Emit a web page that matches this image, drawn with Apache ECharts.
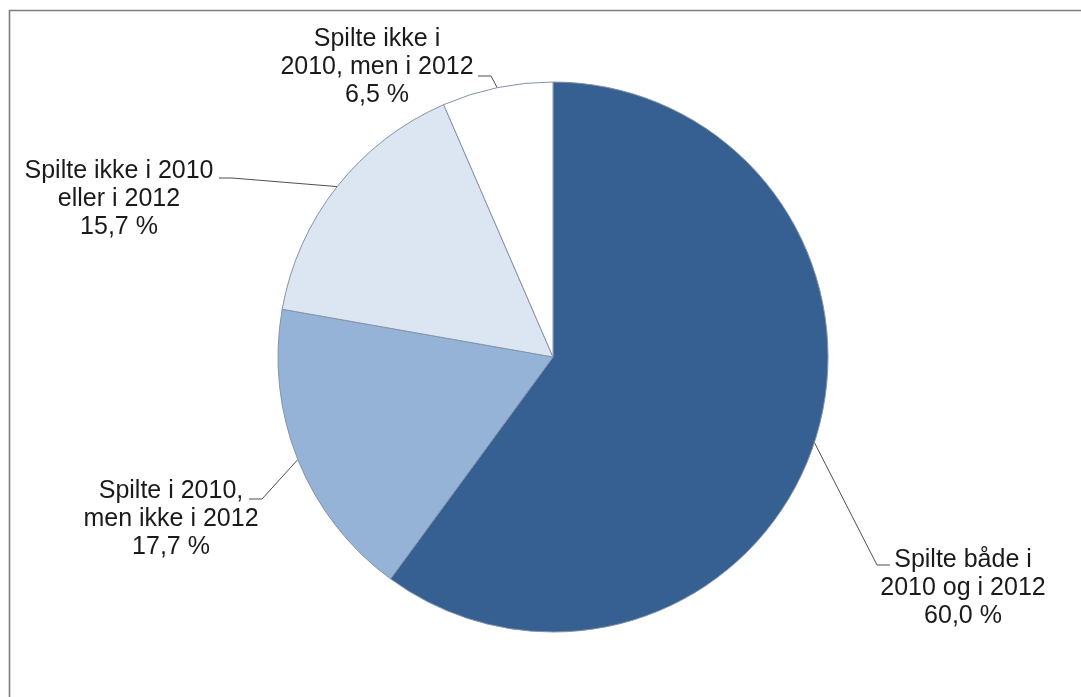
<!DOCTYPE html>
<html>
<head>
<meta charset="utf-8">
<script src="https://cdn.jsdelivr.net/npm/echarts@6/dist/echarts.min.js"></script>
<style>
  html, body { margin: 0; padding: 0; background: #ffffff; }
  #chart { width: 1081px; height: 697px; }
</style>
</head>
<body>
<div id="chart"></div>
<script>
// Andel spillere etter om de spilte i 2010 og/eller 2012 (prosent)
const categories = [
  'Spilte både i\n2010 og i 2012',
  'Spilte i 2010,\nmen ikke i 2012',
  'Spilte ikke i 2010\neller i 2012',
  'Spilte ikke i\n2010, men i 2012'
];
const values = [60.0, 17.7, 15.7, 6.5];
const sliceColors = ['#376092', '#95b3d7', '#dce6f2', '#ffffff'];

// Label placement: block centre and the elbow/end of each leader line
const labelPlacement = [
  { x: 963, y: 588, elbow: [877, 565], end: [890, 565] },
  { x: 171, y: 519, elbow: [262, 499], end: [249, 499] },
  { x: 119, y: 199, elbow: [232, 178], end: [219, 178] },
  { x: 377, y: 67,  elbow: [491, 76],  end: [478, 76] }
];

const fmt = v => v.toFixed(1).replace('.', ',') + ' %';

const chart = echarts.init(document.getElementById('chart'), null, { renderer: 'canvas' });

chart.setOption({
  backgroundColor: '#ffffff',
  animation: false,
  graphic: [{
    type: 'rect',
    shape: { x: 9.5, y: 10.5, width: 1200, height: 800 },
    style: { fill: 'none', stroke: '#7c7c7c', lineWidth: 1.6 },
    silent: true
  }],
  series: [{
    type: 'pie',
    center: [553, 357],
    radius: 275,
    startAngle: 90,
    clockwise: true,
    avoidLabelOverlap: false,
    data: categories.map((name, i) => ({
      name: name,
      value: values[i],
      itemStyle: { color: sliceColors[i] }
    })),
    itemStyle: { borderColor: '#8393a8', borderWidth: 1 },
    label: {
      show: true,
      position: 'outside',
      formatter: p => p.name + '\n' + fmt(p.value),
      fontFamily: 'Liberation Sans, Arial, sans-serif',
      fontSize: 25,
      lineHeight: 28,
      color: '#1a1a1a',
      align: 'center'
    },
    labelLine: {
      show: true,
      length: 20,
      length2: 10,
      lineStyle: { color: '#4f4f4f', width: 1 }
    },
    labelLayout: params => {
      const pl = labelPlacement[params.dataIndex];
      const start = params.labelLinePoints ? params.labelLinePoints[0] : pl.elbow;
      return {
        x: pl.x,
        y: pl.y,
        align: 'center',
        verticalAlign: 'middle',
        labelLinePoints: [start, pl.elbow, pl.end]
      };
    },
    emphasis: { disabled: true }
  }]
});
</script>
</body>
</html>
